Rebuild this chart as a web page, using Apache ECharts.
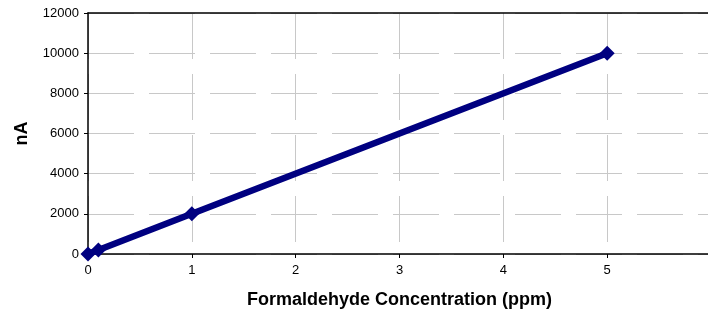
<!DOCTYPE html>
<html>
<head>
<meta charset="utf-8">
<script src="https://cdn.jsdelivr.net/npm/echarts@6/dist/echarts.min.js"></script>
<style>
html, body { margin: 0; padding: 0; background: #fff; }
#chart { width: 708px; height: 318px; }
</style>
</head>
<body>
<div id="chart"></div>
<script>
var concentration = [0, 0.1, 1, 5];
var current = [0, 200, 2000, 10000];
var xTitle = 'Formaldehyde Concentration (ppm)';
var yTitle = 'nA';

var chart = echarts.init(document.getElementById('chart'));
var gridLine = { show: true, lineStyle: { color: '#c8c8c8', width: 1, type: [46, 15] } };

var option = {
    animation: false,
    backgroundColor: '#fff',
    textStyle: { fontFamily: 'Liberation Sans, Arial, sans-serif' },
    grid: {
        left: 88, width: 623, top: 13, height: 241,
        containLabel: false, outerBoundsMode: 'none'
    },
    xAxis: [{
        type: 'value',
        min: 0,
        max: 6,
        interval: 1,
        name: xTitle,
        nameLocation: 'middle',
        nameGap: 37,
        nameTextStyle: { fontSize: 18, fontWeight: 'bold', color: '#000' },
        axisLine: { lineStyle: { color: '#000', width: 1.5 } },
        axisTick: { show: true, length: 4, lineStyle: { color: '#000' } },
        axisLabel: { fontSize: 13, color: '#000', margin: 10, showMaxLabel: true, hideOverlap: false },
        splitLine: gridLine
    }, {
        // top frame line only
        type: 'value',
        position: 'top',
        min: 0,
        max: 6,
        axisLine: { show: true, lineStyle: { color: '#000', width: 1.5 } },
        axisTick: { show: false },
        axisLabel: { show: false },
        splitLine: { show: false }
    }],
    yAxis: {
        type: 'value',
        min: 0,
        max: 12000,
        interval: 2000,
        name: yTitle,
        nameLocation: 'middle',
        nameGap: 57,
        nameTextStyle: { fontSize: 18, fontWeight: 'bold', color: '#000' },
        axisLine: { show: true, lineStyle: { color: '#000', width: 1.5 } },
        axisTick: { show: true, length: 4, lineStyle: { color: '#000' } },
        axisLabel: { fontSize: 13, color: '#000', margin: 9, formatter: function (v) { return String(v); } },
        splitLine: gridLine
    },
    series: [{
        type: 'line',
        xAxisIndex: 0,
        data: concentration.map(function (c, i) { return [c, current[i]]; }),
        symbol: 'diamond',
        symbolSize: 15,
        lineStyle: { color: '#000080', width: 6.5 },
        itemStyle: { color: '#000080' }
    }]
};
chart.setOption(option);
</script>
</body>
</html>
